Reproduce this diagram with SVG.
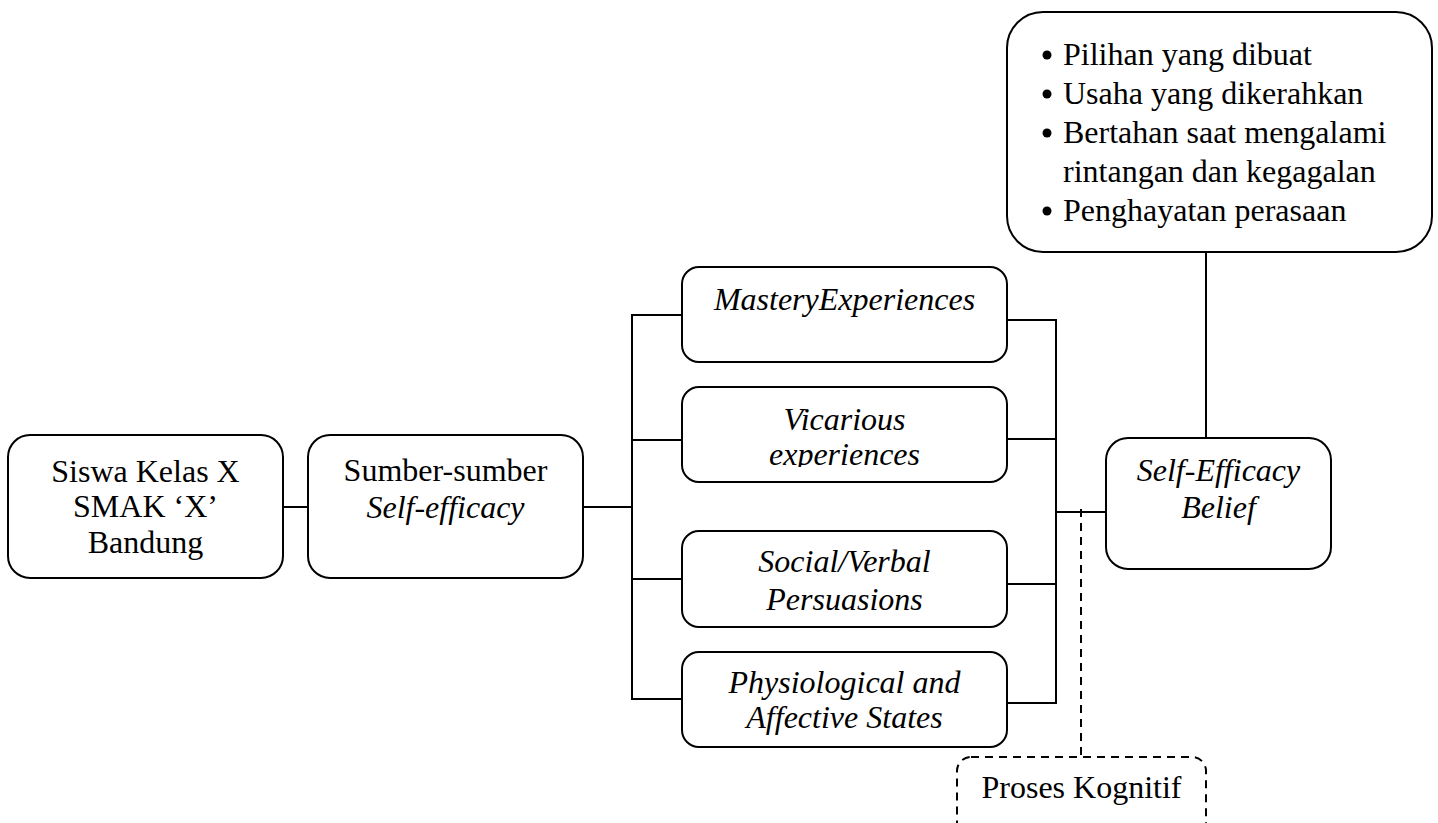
<svg xmlns="http://www.w3.org/2000/svg" width="1438" height="823" viewBox="0 0 1438 823">
<style>
.box{fill:#fff;stroke:#000;stroke-width:2}
.dash{fill:#fff;stroke:#000;stroke-width:2;stroke-dasharray:8 6}
.t{font-family:"Liberation Serif","Times New Roman",serif;font-size:32px;fill:#000;text-anchor:middle}
.l{font-family:"Liberation Serif","Times New Roman",serif;font-size:32px;fill:#000}
.i{font-style:italic}
.ln{fill:none;stroke:#000;stroke-width:2}
.dot{fill:#000}
</style>
<defs>
<clipPath id="vclip"><rect x="682" y="387" width="325" height="80"/></clipPath>
</defs>
<rect width="1438" height="823" fill="#fff"/>
<g id="connectors">
<line class="ln" x1="283" y1="507" x2="308" y2="507"/>
<line class="ln" x1="583" y1="507" x2="632" y2="507"/>
<polyline class="ln" points="682,315 632,315 632,699 682,699"/>
<line class="ln" x1="632" y1="440" x2="682" y2="440"/>
<line class="ln" x1="632" y1="579" x2="682" y2="579"/>
<polyline class="ln" points="1007,320 1056,320 1056,703 1007,703"/>
<line class="ln" x1="1007" y1="439" x2="1056" y2="439"/>
<line class="ln" x1="1007" y1="584" x2="1056" y2="584"/>
<line class="ln" x1="1056" y1="512" x2="1106" y2="512"/>
<line class="ln" x1="1206" y1="252" x2="1206" y2="438"/>
<line class="ln" x1="1081" y1="509" x2="1081" y2="757" stroke-dasharray="8 6"/>
</g>
<g id="siswa">
<rect class="box" x="8" y="435" width="275" height="143" rx="22"/>
<text class="t" x="145.5" y="482">Siswa Kelas X</text>
<text class="t" x="145.5" y="517">SMAK ‘X’</text>
<text class="t" x="145.5" y="553">Bandung</text>
</g>
<g id="sumber">
<rect class="box" x="308" y="435" width="275" height="143" rx="22"/>
<text class="t" x="445.5" y="481">Sumber-sumber</text>
<text class="t i" x="445.5" y="518">Self-efficacy</text>
</g>
<g id="mastery">
<rect class="box" x="682" y="267" width="325" height="95" rx="17"/>
<text class="t i" x="844.5" y="310">MasteryExperiences</text>
</g>
<g id="vicarious">
<rect class="box" x="682" y="387" width="325" height="95" rx="17"/>
<g clip-path="url(#vclip)">
<text class="t i" x="844.5" y="430">Vicarious</text>
<text class="t i" x="844.5" y="465">experiences</text>
</g>
</g>
<g id="social">
<rect class="box" x="682" y="531" width="325" height="96" rx="17"/>
<text class="t i" x="844.5" y="572">Social/Verbal</text>
<text class="t i" x="844.5" y="610">Persuasions</text>
</g>
<g id="physiological">
<rect class="box" x="682" y="652" width="325" height="95" rx="17"/>
<text class="t i" x="844.5" y="693">Physiological and</text>
<text class="t i" x="844.5" y="728">Affective States</text>
</g>
<g id="selfefficacy">
<rect class="box" x="1106" y="438" width="225" height="131" rx="22"/>
<text class="t i" x="1218.5" y="481">Self-Efficacy</text>
<text class="t i" x="1218.5" y="518">Belief</text>
</g>
<g id="outcomes">
<rect class="box" x="1007" y="12" width="425" height="240" rx="36"/>
<circle class="dot" cx="1047" cy="55" r="4.5"/><text class="l" x="1063" y="65">Pilihan yang dibuat</text>
<circle class="dot" cx="1047" cy="94" r="4.5"/><text class="l" x="1063" y="104">Usaha yang dikerahkan</text>
<circle class="dot" cx="1047" cy="133" r="4.5"/><text class="l" x="1063" y="143">Bertahan saat mengalami</text>
<text class="l" x="1063" y="182">rintangan dan kegagalan</text>
<circle class="dot" cx="1047" cy="211" r="4.5"/><text class="l" x="1063" y="221">Penghayatan perasaan</text>
</g>
<g id="proses">
<rect class="dash" x="957" y="757" width="249" height="90" rx="14"/>
<text class="t" x="1081.5" y="798">Proses Kognitif</text>
</g>
</svg>
